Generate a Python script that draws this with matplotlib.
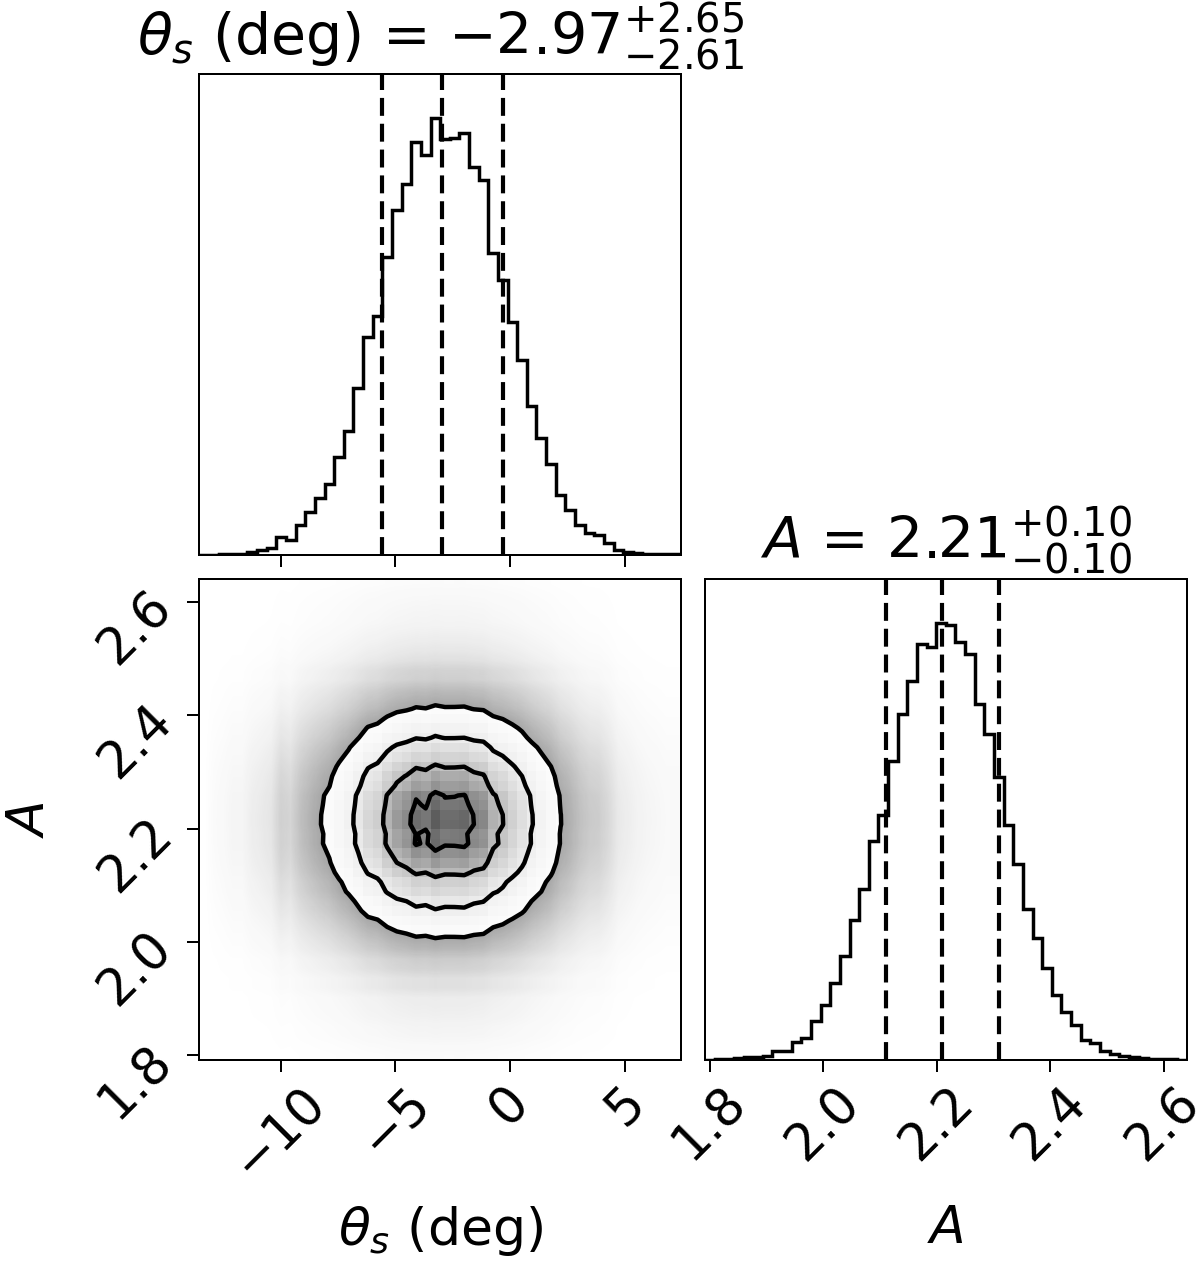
import numpy as np
import matplotlib.pyplot as plt
from matplotlib.colors import LinearSegmentedColormap

# parameter ranges (sample min / max) and histogram counts, 50 bins each
theta_lo, theta_hi = -13.54, 7.44
amp_lo, amp_hi = 1.792, 2.640

theta_counts = [0, 1, 2, 4, 4, 10, 14, 20, 55, 44,
                90, 128, 170, 212, 292, 372, 498, 652, 714, 890,
                1032, 1108, 1235, 1197, 1307, 1242, 1245, 1260, 1160, 1120,
                902, 822, 697, 582, 445, 350, 272, 178, 135, 90,
                67, 60, 37, 15, 10, 6, 4, 3, 2, 2]
amp_counts = [1, 2, 4, 5, 8, 10, 12, 27, 27, 53,
              65, 118, 165, 232, 312, 420, 513, 658, 737, 898,
              1038, 1137, 1250, 1240, 1313, 1305, 1255, 1218, 1070, 980,
              850, 705, 590, 452, 365, 275, 195, 145, 105, 60,
              52, 28, 18, 12, 8, 5, 4, 3, 2, 1]

# median and 16/84 percentile offsets
theta_med, theta_minus, theta_plus = -2.97, 2.61, 2.65
amp_med, amp_minus, amp_plus = 2.21, 0.10, 0.10

theta_ticks = [-10, -5, 0, 5]
amp_ticks = [1.8, 2.0, 2.2, 2.4, 2.6]

theta_label = r"$\theta_s$ (deg)"
amp_label = r"$A$"

sigma_levels = [0.5, 1.0, 1.5, 2.0]

# style
LABEL_FS = 37.5
TICK_FS = 36.5
TITLE_FS = 41
TICK_KW = dict(length=8.6, width=1.44, labelsize=TICK_FS, pad=4)
HIST_LW = 2.5
DASH_LW = 3.0
DASH = (0, (4.3, 1.9))

W, H_PX = 1200, 1262
fig = plt.figure(figsize=(W / 100, H_PX / 100), dpi=100)


def add_ax(x0, y0, w=481.7, h=481):
    ax = fig.add_axes([x0 / W, 1 - (y0 + h) / H_PX, w / W, h / H_PX])
    for s in ax.spines.values():
        s.set_linewidth(1.44)
    ax.tick_params(**TICK_KW)
    return ax


ax_t = add_ax(199.3, 74)
ax_2d = add_ax(199.3, 579)
ax_a = add_ax(705, 579)

t_edges = np.linspace(theta_lo, theta_hi, len(theta_counts) + 1)
a_edges = np.linspace(amp_lo, amp_hi, len(amp_counts) + 1)


def title_str(lab, med, lo, hi):
    return lab + " = " + r"${0:.2f}_{{-{1:.2f}}}^{{+{2:.2f}}}$".format(med, lo, hi)


# 1D histogram: theta
ax_t.stairs(theta_counts, t_edges, color="k", lw=HIST_LW)
for q in [theta_med - theta_minus, theta_med, theta_med + theta_plus]:
    ax_t.axvline(q, color="k", ls=DASH, lw=DASH_LW)
ax_t.set_xlim(theta_lo, theta_hi)
ax_t.set_ylim(0, 1.1 * max(theta_counts))
ax_t.set_yticks([])
ax_t.set_xticks(theta_ticks)
ax_t.set_xticklabels([])
ax_t.set_title(title_str(theta_label, theta_med, theta_minus, theta_plus),
               fontsize=TITLE_FS, pad=13)

# 1D histogram: A
ax_a.stairs(amp_counts, a_edges, color="k", lw=HIST_LW)
for q in [amp_med - amp_minus, amp_med, amp_med + amp_plus]:
    ax_a.axvline(q, color="k", ls=DASH, lw=DASH_LW)
ax_a.set_xlim(amp_lo, amp_hi)
ax_a.set_ylim(0, 1.1 * max(amp_counts))
ax_a.set_yticks([])
ax_a.set_xticks(amp_ticks)
for l in ax_a.get_xticklabels():
    l.set_rotation(45)
ax_a.set_xlabel(amp_label, fontsize=LABEL_FS)
ax_a.xaxis.set_label_coords(0.5, -0.3)
ax_a.set_title(title_str(amp_label, amp_med, amp_minus, amp_plus),
               fontsize=TITLE_FS, pad=14)

# 2D histogram built from the two marginals
t_cent = 0.5 * (t_edges[1:] + t_edges[:-1])
a_cent = 0.5 * (a_edges[1:] + a_edges[:-1])
H2 = np.outer(amp_counts, theta_counts).astype(float)
H2 /= H2.max()

levels = 1 - np.exp(-0.5 * np.array(sigma_levels) ** 2)
hflat = np.sort(H2.ravel())[::-1]
cum = np.cumsum(hflat)
cum /= cum[-1]
V = np.sort([hflat[cum <= lv][-1] for lv in levels])

# faint cloud of samples outside the contours
haze = np.zeros(H2.shape + (4,))
haze[..., :3] = 0.15
haze[..., 3] = np.minimum(0.6, 1.5 * H2 ** 0.6)
ax_2d.imshow(haze, extent=[theta_lo, theta_hi, amp_lo, amp_hi], origin="lower",
             aspect="auto", interpolation="bilinear", zorder=0)

ax_2d.contourf(t_cent, a_cent, H2, [V.min(), H2.max() + 1e-9], colors="white", zorder=1)
dens_cmap = LinearSegmentedColormap.from_list("dens", [(1, 1, 1, 0), (0, 0, 0, 1)])
ax_2d.pcolormesh(t_edges, a_edges, H2, cmap=dens_cmap, vmin=0, vmax=1 / 0.8, zorder=2)
ax_2d.contour(t_cent, a_cent, H2, V, colors="k", linewidths=3.2, zorder=3)

ax_2d.set_xlim(theta_lo, theta_hi)
ax_2d.set_ylim(amp_lo, amp_hi)
ax_2d.set_xticks(theta_ticks)
ax_2d.set_yticks(amp_ticks)
for l in ax_2d.get_xticklabels() + ax_2d.get_yticklabels():
    l.set_rotation(45)
ax_2d.set_xlabel(theta_label, fontsize=LABEL_FS)
ax_2d.set_ylabel(amp_label, fontsize=LABEL_FS)
ax_2d.xaxis.set_label_coords(0.5, -0.3)
ax_2d.yaxis.set_label_coords(-0.3, 0.5)

fig.savefig("out.png", dpi=100)
